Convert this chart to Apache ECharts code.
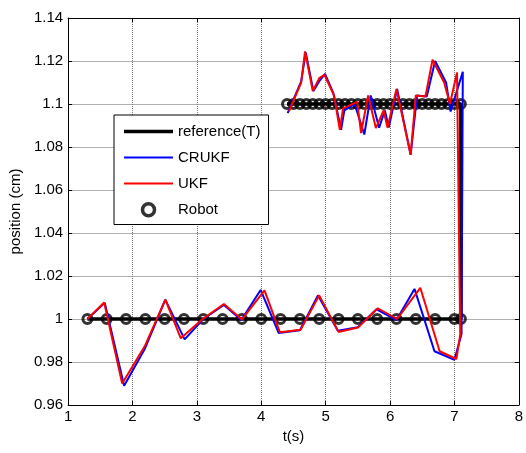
<!DOCTYPE html>
<html>
<head>
<meta charset="utf-8">
<script src="https://cdn.jsdelivr.net/npm/echarts@6/dist/echarts.min.js"></script>
<style>
  html, body { margin: 0; padding: 0; background: #fff; }
  #chart { width: 526px; height: 453px; }
</style>
</head>
<body>
<div id="chart"></div>
<script>
// reference trajectory (T)
var refT = [1.3, 7.1, 7.1, 4.4];
var refV = [1.0, 1.0, 1.1, 1.1];

// CRUKF estimate, lower part then upper part
var cruLowT = [1.3, 1.57, 1.87, 2.19, 2.51, 2.81, 3.1, 3.42, 3.69, 3.99, 4.27, 4.6, 4.88, 5.19, 5.5, 5.79, 6.1, 6.38, 6.69, 7.0, 7.11];
var cruLowV = [1.0, 1.0075, 0.969, 0.986, 1.009, 0.9905, 1.0, 1.0065, 0.9995, 1.0135, 0.9935, 0.9948, 1.011, 0.9945, 0.9962, 1.0045, 0.9995, 1.014, 0.985, 0.981, 0.993];
var cruUpT = [4.41, 4.62, 4.69, 4.81, 4.91, 4.99, 5.12, 5.24, 5.29, 5.45, 5.6, 5.7, 5.83, 5.92, 5.98, 6.11, 6.32, 6.42, 6.57, 6.7, 6.87, 6.94, 7.13];
var cruUpV = [1.0958, 1.1105, 1.124, 1.106, 1.111, 1.114, 1.105, 1.088, 1.097, 1.1, 1.0858, 1.104, 1.089, 1.097, 1.089, 1.107, 1.0764, 1.104, 1.1035, 1.12, 1.11, 1.0965, 1.115];

// UKF estimate, lower part then upper part
var ukfLowT = [1.3, 1.56, 1.84, 2.19, 2.51, 2.75, 3.09, 3.42, 3.7, 4.05, 4.29, 4.61, 4.9, 5.2, 5.5, 5.81, 6.11, 6.47, 6.77, 7.03, 7.09];
var ukfLowV = [1.0, 1.0077, 0.970, 0.9873, 1.009, 0.991, 1.0, 1.007, 0.9998, 1.0133, 0.9938, 0.995, 1.011, 0.994, 0.996, 1.005, 1.0, 1.0145, 0.985, 0.9814, 0.9927];
var ukfUpT = [4.43, 4.62, 4.68, 4.8, 4.9, 4.98, 5.13, 5.22, 5.27, 5.49, 5.55, 5.66, 5.78, 5.9, 5.96, 6.1, 6.32, 6.4, 6.55, 6.66, 6.84, 6.93, 7.04];
var ukfUpV = [1.0966, 1.11, 1.1245, 1.106, 1.112, 1.1136, 1.104, 1.088, 1.098, 1.101, 1.0865, 1.104, 1.0888, 1.097, 1.089, 1.107, 1.0764, 1.104, 1.1035, 1.1206, 1.11, 1.1, 1.1147];

// robot positions
var robotLowT = [1.3, 1.6, 1.9, 2.2, 2.5, 2.8, 3.1, 3.4, 3.7, 4.0, 4.3, 4.6, 4.9, 5.2, 5.5, 5.8, 6.1, 6.4, 6.7, 7.0, 7.1];
var robotUpT = [4.4, 4.5, 4.6, 4.7, 4.8, 4.9, 5.0, 5.1, 5.2, 5.3, 5.4, 5.5, 5.6, 5.7, 5.8, 5.9, 6.0, 6.1, 6.2, 6.3, 6.4, 6.5, 6.6, 6.7, 6.8, 6.9, 7.0, 7.1];
var robotLowV = 1.0;
var robotUpV = 1.1;

var xTicks = [1, 2, 3, 4, 5, 6, 7, 8];
var yTicks = [0.96, 0.98, 1.0, 1.02, 1.04, 1.06, 1.08, 1.1, 1.12, 1.14];

function pairs(t, v) {
  return t.map(function (x, i) { return [x, v[i]]; });
}
// lower part, jump up at the end, then the upper part back in time
function path(lowT, lowV, upT, upV) {
  return pairs(lowT, lowV).concat(pairs(upT, upV).reverse());
}

var robotData = robotLowT.map(function (t) { return [t, robotLowV]; })
  .concat(robotUpT.map(function (t) { return [t, robotUpV]; }));

var font = 'Liberation Sans, Arial, sans-serif';
// flat line icons for the legend
var thickLine = 'path://M0,0 L49,0 L49,3.5 L0,3.5 Z';
var thinLine = 'path://M0,0 L49,0 L49,2 L0,2 Z';

var chart = echarts.init(document.getElementById('chart'));
chart.setOption({
  animation: false,
  backgroundColor: '#fff',
  grid: { left: 68, right: 6, top: 18, bottom: 48 },
  legend: {
    orient: 'vertical',
    left: 114,
    top: 115,
    padding: [9, 8, 7, 10],
    itemWidth: 49,
    itemHeight: 12,
    itemGap: 11,
    backgroundColor: '#fff',
    borderColor: '#000',
    borderWidth: 1,
    borderRadius: 0,
    textStyle: { color: '#000', fontSize: 15, fontFamily: font },
    data: [
      { name: 'reference(T)', icon: thickLine, itemStyle: { color: '#000' } },
      { name: 'CRUKF', icon: thinLine, itemStyle: { color: '#0000ff' } },
      { name: 'UKF', icon: thinLine, itemStyle: { color: '#ff0000' } },
      { name: 'Robot', icon: 'circle', itemStyle: { color: 'rgba(0,0,0,0)', borderColor: '#000', borderWidth: 3.5 } }
    ]
  },
  xAxis: [{
    type: 'value',
    min: xTicks[0],
    max: xTicks[xTicks.length - 1],
    interval: 1,
    name: 't(s)',
    nameLocation: 'middle',
    nameGap: 24,
    nameTextStyle: { color: '#000', fontSize: 15, fontFamily: font },
    axisLine: { lineStyle: { color: '#000', width: 1 } },
    axisTick: { inside: true, length: 4, lineStyle: { color: '#000' } },
    axisLabel: { color: '#000', fontSize: 15, fontFamily: font, margin: 4 },
    splitLine: { show: true, lineStyle: { color: '#777', type: 'dotted', width: 1 } }
  }, {
    type: 'value',
    position: 'top',
    min: xTicks[0],
    max: xTicks[xTicks.length - 1],
    interval: 1,
    axisLine: { show: true, lineStyle: { color: '#000', width: 1 } },
    axisTick: { inside: true, length: 4, lineStyle: { color: '#000' } },
    axisLabel: { show: false },
    splitLine: { show: false }
  }],
  yAxis: [{
    type: 'value',
    min: yTicks[0],
    max: yTicks[yTicks.length - 1],
    interval: 0.02,
    name: 'position (cm)',
    nameLocation: 'middle',
    nameGap: 44,
    nameTextStyle: { color: '#000', fontSize: 15, fontFamily: font },
    axisLine: { show: true, lineStyle: { color: '#000', width: 1 } },
    axisTick: { show: true, inside: true, length: 4, lineStyle: { color: '#000' } },
    axisLabel: {
      color: '#000', fontSize: 15, fontFamily: font, margin: 5,
      formatter: function (v) { return String(parseFloat(v.toFixed(2))); }
    },
    splitLine: { show: true, lineStyle: { color: '#b0b0b0', width: 1 } }
  }, {
    type: 'value',
    position: 'right',
    min: yTicks[0],
    max: yTicks[yTicks.length - 1],
    interval: 0.02,
    axisLine: { show: true, lineStyle: { color: '#000', width: 1 } },
    axisTick: { show: true, inside: true, length: 4, lineStyle: { color: '#000' } },
    axisLabel: { show: false },
    splitLine: { show: false }
  }],
  series: [{
    name: 'reference(T)',
    type: 'line',
    symbol: 'none',
    lineStyle: { color: '#000', width: 3.5 },
    itemStyle: { color: '#000' },
    data: pairs(refT, refV)
  }, {
    name: 'CRUKF',
    type: 'line',
    symbol: 'none',
    lineStyle: { color: '#0000ff', width: 2 },
    itemStyle: { color: '#0000ff' },
    data: path(cruLowT, cruLowV, cruUpT, cruUpV)
  }, {
    name: 'UKF',
    type: 'line',
    symbol: 'none',
    lineStyle: { color: '#ff0000', width: 2 },
    itemStyle: { color: '#ff0000' },
    data: path(ukfLowT, ukfLowV, ukfUpT, ukfUpV)
  }, {
    name: 'Robot',
    type: 'scatter',
    symbol: 'circle',
    symbolSize: 9,
    itemStyle: { color: 'rgba(0,0,0,0)', borderColor: '#000', borderWidth: 3 },
    data: robotData
  }]
});
</script>
</body>
</html>
